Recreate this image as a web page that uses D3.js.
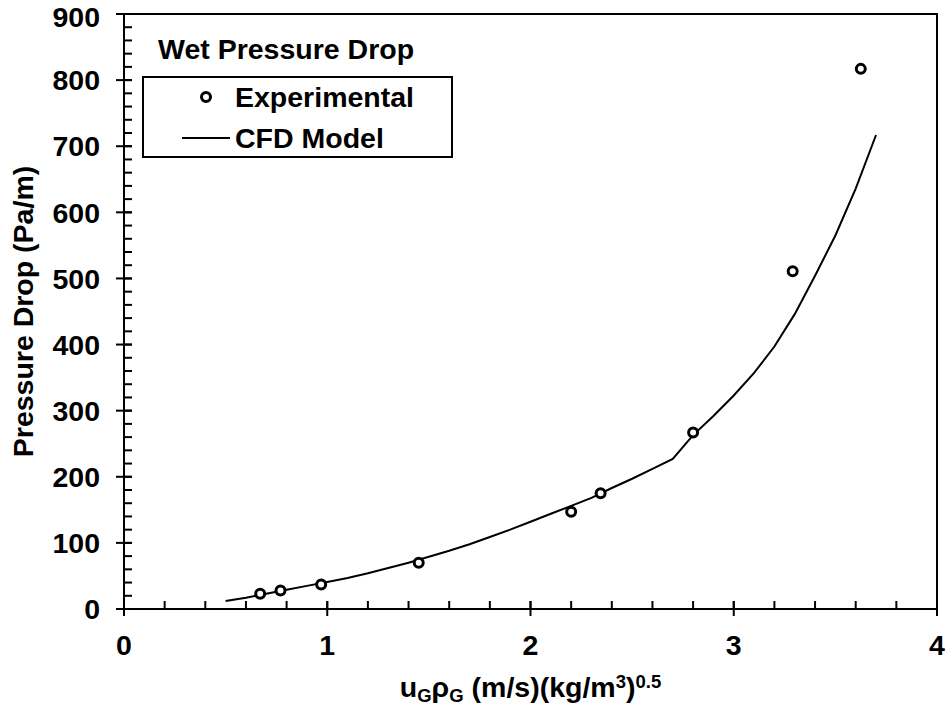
<!DOCTYPE html>
<html><head><meta charset="utf-8">
<script src="https://cdn.jsdelivr.net/npm/d3@7"></script>
<style>
html,body{margin:0;padding:0;background:#fff;}
text{font-family:"Liberation Sans",Arial,sans-serif;font-weight:bold;fill:#000;}
</style></head>
<body>
<svg id="chart" width="951" height="714"></svg>
<script>
// Experimental data
const expX = [0.67, 0.77, 0.97, 1.45, 2.2, 2.345, 2.8, 3.29, 3.625];
const expY = [23, 28, 37, 70, 147, 175, 267, 511, 817];
// CFD model curve
const cfdX = [0.5,0.6,0.7,0.8,0.9,1.0,1.1,1.2,1.3,1.4,1.5,1.6,1.7,1.8,1.9,2.0,2.1,2.2,2.3,2.4,2.5,2.6,2.7,2.8,2.9,3.0,3.1,3.2,3.3,3.4,3.5,3.6,3.7];
const cfdY = [12,17,23,29,35,41,47,54,62,70,79,88,98,109,120,132,144,156,168,183,197,212,227,263,292,323,357,397,446,504,565,636,717];
// Ticks
const xMajor = [0,1,2,3,4];
const yMajor = [0,100,200,300,400,500,600,700,800,900];
const legendTitle = "Wet Pressure Drop";
const seriesNames = ["Experimental", "CFD Model"];
const yTitle = "Pressure Drop (Pa/m)";

const svg = d3.select("#chart");
const L = 124, R = 937, T = 14, B = 609;
const x = d3.scaleLinear().domain([0,4]).range([L,R]);
const y = d3.scaleLinear().domain([0,900]).range([B,T]);
const FS = 28.5;

// frame
svg.append("rect").attr("x",L).attr("y",T).attr("width",R-L).attr("height",B-T)
  .attr("fill","none").attr("stroke","#000").attr("stroke-width",2);

// x axis: minor ticks inside (up), major crossing
const xMinor = d3.range(0,4.0001,0.2);
svg.append("g").selectAll("line").data(xMinor).join("line")
  .attr("x1",d=>x(d)).attr("x2",d=>x(d)).attr("y1",B).attr("y2",B-8)
  .attr("stroke","#000").attr("stroke-width",2);
svg.append("g").selectAll("line").data(xMajor).join("line")
  .attr("x1",d=>x(d)).attr("x2",d=>x(d)).attr("y1",B-8).attr("y2",B+7)
  .attr("stroke","#000").attr("stroke-width",2);
svg.append("g").selectAll("text").data(xMajor).join("text")
  .attr("x",d=>x(d)).attr("y",655).attr("text-anchor","middle")
  .attr("font-size",FS).text(d=>d);

// y axis
const yMinor = d3.range(0,900.001,20);
svg.append("g").selectAll("line").data(yMinor).join("line")
  .attr("x1",L).attr("x2",L+8).attr("y1",d=>y(d)).attr("y2",d=>y(d))
  .attr("stroke","#000").attr("stroke-width",2);
svg.append("g").selectAll("line").data(yMajor).join("line")
  .attr("x1",L-8).attr("x2",L+8).attr("y1",d=>y(d)).attr("y2",d=>y(d))
  .attr("stroke","#000").attr("stroke-width",2);
svg.append("g").selectAll("text").data(yMajor).join("text")
  .attr("x",100).attr("y",d=>Math.max(y(d)+FS*0.36, 26.5)).attr("text-anchor","end")
  .attr("font-size",FS).text(d=>d);

// axis titles
svg.append("text").attr("transform",`translate(33,${(T+B)/2}) rotate(-90)`)
  .attr("text-anchor","middle").attr("font-size",FS).text(yTitle);

const xt = svg.append("text").attr("x",(L+R)/2).attr("y",697).attr("text-anchor","middle").attr("font-size",FS);
xt.append("tspan").text("u");
xt.append("tspan").attr("font-size",FS*0.65).attr("dy",5).text("G");
xt.append("tspan").attr("dy",-5).text("ρ");
xt.append("tspan").attr("font-size",FS*0.65).attr("dy",5).text("G");
xt.append("tspan").attr("dy",-5).text("\u00a0(m/s)(kg/m");
xt.append("tspan").attr("font-size",FS*0.65).attr("dy",-9).text("3");
xt.append("tspan").attr("dy",9).text(")");
xt.append("tspan").attr("font-size",FS*0.65).attr("dy",-9).text("0.5");

// CFD line
const line = d3.line().x(d=>x(d[0])).y(d=>y(d[1]));
svg.append("path").datum(cfdX.map((v,i)=>[v,cfdY[i]]))
  .attr("d",line).attr("fill","none").attr("stroke","#000").attr("stroke-width",2);

// experimental markers
svg.append("g").selectAll("circle").data(expX.map((v,i)=>[v,expY[i]])).join("circle")
  .attr("cx",d=>x(d[0])).attr("cy",d=>y(d[1])).attr("r",4.5)
  .attr("fill","#fff").attr("stroke","#000").attr("stroke-width",3);

// legend
svg.append("text").attr("x",158).attr("y",59).attr("font-size",FS).text(legendTitle);
svg.append("rect").attr("x",143).attr("y",77).attr("width",309).attr("height",80)
  .attr("fill","#fff").attr("stroke","#000").attr("stroke-width",2);
svg.append("circle").attr("cx",206).attr("cy",97).attr("r",4.5)
  .attr("fill","#fff").attr("stroke","#000").attr("stroke-width",3);
svg.append("text").attr("x",235).attr("y",107).attr("font-size",FS).text(seriesNames[0]);
svg.append("line").attr("x1",182).attr("x2",230).attr("y1",138).attr("y2",138)
  .attr("stroke","#000").attr("stroke-width",2);
svg.append("text").attr("x",235).attr("y",148).attr("font-size",FS).text(seriesNames[1]);
</script>
</body></html>
